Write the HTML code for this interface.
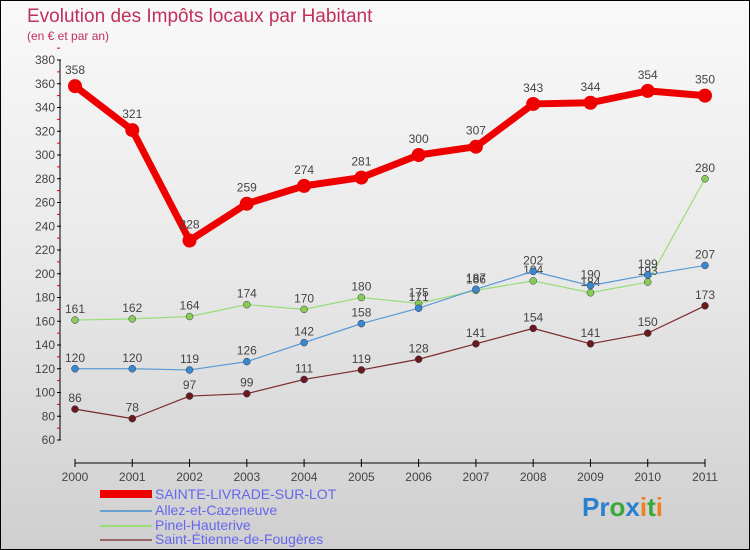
<!DOCTYPE html>
<html><head><meta charset="utf-8"><style>
body{margin:0}
#c{width:750px;height:550px;position:relative;box-sizing:border-box;border:1px solid #000;background:linear-gradient(#f9f9f9,#e8e8e8 50%,#cfcfcf);font-family:"Liberation Sans",sans-serif;overflow:hidden}
</style></head><body>
<div id="c">
<svg id="s" width="750" height="550" style="position:absolute;left:-1px;top:-1px" font-family="Liberation Sans, sans-serif">
<text x="27" y="22" font-size="19" fill="#c0305a">Evolution des Impôts locaux par Habitant</text>
<text x="27" y="40" font-size="12" fill="#c0305a">(en € et par an)</text>
<g id="axes"></g><g id="series"></g>
<g>
<rect x="100" y="490" width="52" height="8" fill="#e00"/>
<text x="155" y="499" font-size="14" fill="#6666ee">SAINTE-LIVRADE-SUR-LOT</text>
<line x1="100" y1="511" x2="152" y2="511" stroke="#6aa0d0" stroke-width="2"/>
<text x="155" y="515" font-size="14" fill="#6666ee">Allez-et-Cazeneuve</text>
<line x1="100" y1="526" x2="152" y2="526" stroke="#99dd77" stroke-width="2"/>
<text x="155" y="530" font-size="14" fill="#6666ee">Pinel-Hauterive</text>
<line x1="100" y1="540" x2="152" y2="540" stroke="#996666" stroke-width="2"/>
<text x="155" y="544" font-size="14" fill="#6666ee">Saint-Étienne-de-Fougères</text>
</g>
<text x="582" y="516" font-size="26" font-weight="bold"><tspan fill="#2a7fd0">Pr</tspan><tspan fill="#3aa83a">o</tspan><tspan fill="#2a7fd0">x</tspan><tspan fill="#f08020">i</tspan><tspan fill="#3aa83a">t</tspan><tspan fill="#f08020">i</tspan></text>
</svg>
</div>
<script>
const years=[2000,2001,2002,2003,2004,2005,2006,2007,2008,2009,2010,2011];
const yTicks=[60,80,100,120,140,160,180,200,220,240,260,280,300,320,340,360,380];
const sainte=[358,321,228,259,274,281,300,307,343,344,354,350];
const allez=[120,120,119,126,142,158,171,187,202,190,199,207];
const pinel=[161,162,164,174,170,180,175,186,194,184,193,280];
const etienne=[86,78,97,99,111,119,128,141,154,141,150,173];
const NS='http://www.w3.org/2000/svg';
const xs=i=>75+i*(630/11);
const ys=v=>440-(v-60)*380/320;
function mk(t,a,p){const e=document.createElementNS(NS,t);for(const k in a)e.setAttribute(k,a[k]);p.appendChild(e);return e;}
const ax=document.getElementById('axes');
let l=mk('line',{x1:60,y1:60,x2:60,y2:440,stroke:'#000'},ax);


yTicks.forEach(v=>{
  mk('line',{x1:57,y1:ys(v),x2:61,y2:ys(v),stroke:'#000'},ax);
  mk('line',{x1:57,y1:ys(v+10),x2:60,y2:ys(v+10),stroke:'#d00'},ax);
  const t=mk('text',{x:55,y:ys(v)+4,'font-size':12,fill:'#444','text-anchor':'end'},ax);t.textContent=v;
  
  
});
l=mk('line',{x1:75,y1:463,x2:705,y2:463,stroke:'#000'},ax);


years.forEach((y,i)=>{
  mk('line',{x1:xs(i),y1:459,x2:xs(i),y2:467,stroke:'#000'},ax);
  const t=mk('text',{x:xs(i),y:481,'font-size':12,fill:'#444','text-anchor':'middle'},ax);t.textContent=y;
  
  
});
const sg=document.getElementById('series');
function draw(vals,color,dot,w,r,name){
  const g=mk('g',{},sg);
  
  
  mk('polyline',{points:vals.map((v,i)=>xs(i)+','+ys(v)).join(' '),fill:'none',stroke:color,'stroke-width':w,'stroke-linejoin':'round'},g);
  vals.forEach((v,i)=>{
    const c=mk('circle',{cx:xs(i),cy:ys(v),r:r,fill:dot,stroke:w>3?'none':'#335','stroke-width':0.5},g);
    
    
    const t=mk('text',{x:xs(i),y:ys(v)-(w>3?12:7),'font-size':12,fill:'#444','text-anchor':'middle'},g);t.textContent=v;
    
    
  });
}
draw(etienne,'#7a2a2a','#6a1a1a',1.2,3.5,'saint-etienne');
draw(pinel,'#99dd77','#88cc55',1.2,3.5,'pinel');
draw(allez,'#5a9ad5','#3a88cc',1.2,3.5,'allez');
draw(sainte,'#ee0000','#ee0000',7,7,'sainte-livrade');
</script>
</body></html>
